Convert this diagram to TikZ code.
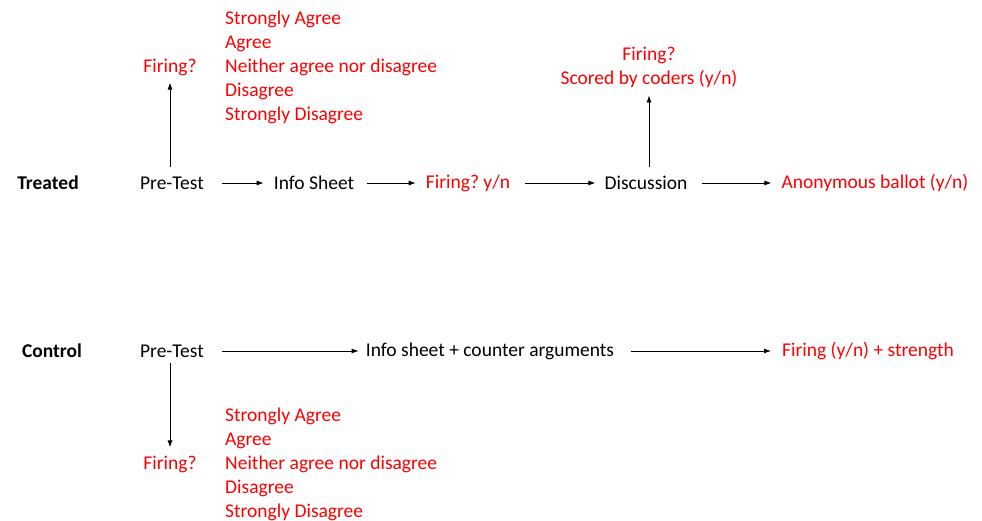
\documentclass[tikz,border=0pt]{standalone}
\usepackage{fontspec}
\setmainfont{Carlito}
\frenchspacing
\usetikzlibrary{arrows.meta}
\definecolor{ansred}{RGB}{255,0,0}
\tikzset{
  stage/.style={inner sep=0pt, font=\fontsize{19.5}{24}\selectfont, text=black},
  answer/.style={stage, text=ansred},
  group/.style={stage, font=\fontsize{19.5}{24}\selectfont\bfseries},
  flow/.style={-{Latex[length=7pt,width=5pt]}, line width=0.8pt, shorten <=15pt, shorten >=10pt},
}
\begin{document}
\begin{tikzpicture}[x=1pt,y=-1pt]
      \useasboundingbox (0,0) rectangle (982,521);

      % treated group
      \node [group] (treated) at (48,183) {Treated};
      \node [stage] (tpre) at (172,183) {Pre-Test};
      \node [stage] (tinfo) at (314,183) {Info Sheet};
      \node [answer] (tfire) at (468,183) {Firing? y/n};
      \node [stage] (tdisc) at (646,183) {Discussion};
      \node [answer] (tballot) at (875,183) {Anonymous ballot (y/n)};
      \node [answer] (tpreq) at (170,67) {Firing?};
      \node [answer, align=left, anchor=west] (tscale) at (225,67)
        {Strongly Agree\\Agree\\Neither agree nor disagree\\Disagree\\Strongly Disagree};
      \node [answer, align=center] (tcoders) at (649,67) {Firing?\\Scored by coders (y/n)};

      \draw [flow, shorten <=18pt, shorten >=10pt] (tpre) -- (tinfo);
      \draw [flow, shorten <=13pt] (tinfo) -- (tfire);
      \draw [flow, shorten <=15pt, shorten >=9pt] (tfire) -- (tdisc);
      \draw [flow, shorten <=14pt, shorten >=10pt] (tdisc) -- (tballot);
      \draw [flow, shorten <=9pt, shorten >=7pt] (tpre.north -| tpreq) -- (tpreq);
      \draw [flow, shorten <=9pt, shorten >=8pt] (tdisc.north -| tcoders) -- (tcoders);

      % control group
      \node [group] (control) at (52,351) {Control};
      \node [stage] (cpre) at (172,351) {Pre-Test};
      \node [stage] (cinfo) at (490,351) {Info sheet + counter arguments};
      \node [answer] (cfire) at (868,351) {Firing (y/n) + strength};
      \node [answer] (cpreq) at (170,464) {Firing?};
      \node [answer, align=left, anchor=west] (cscale) at (225,464)
        {Strongly Agree\\Agree\\Neither agree nor disagree\\Disagree\\Strongly Disagree};

      \draw [flow, shorten <=18pt, shorten >=7pt] (cpre) -- (cinfo);
      \draw [flow, shorten <=17pt, shorten >=11pt] (cinfo) -- (cfire);
      \draw [flow, shorten <=5pt, shorten >=8pt] (cpre.south -| cpreq) -- (cpreq);

\end{tikzpicture}
\end{document}
